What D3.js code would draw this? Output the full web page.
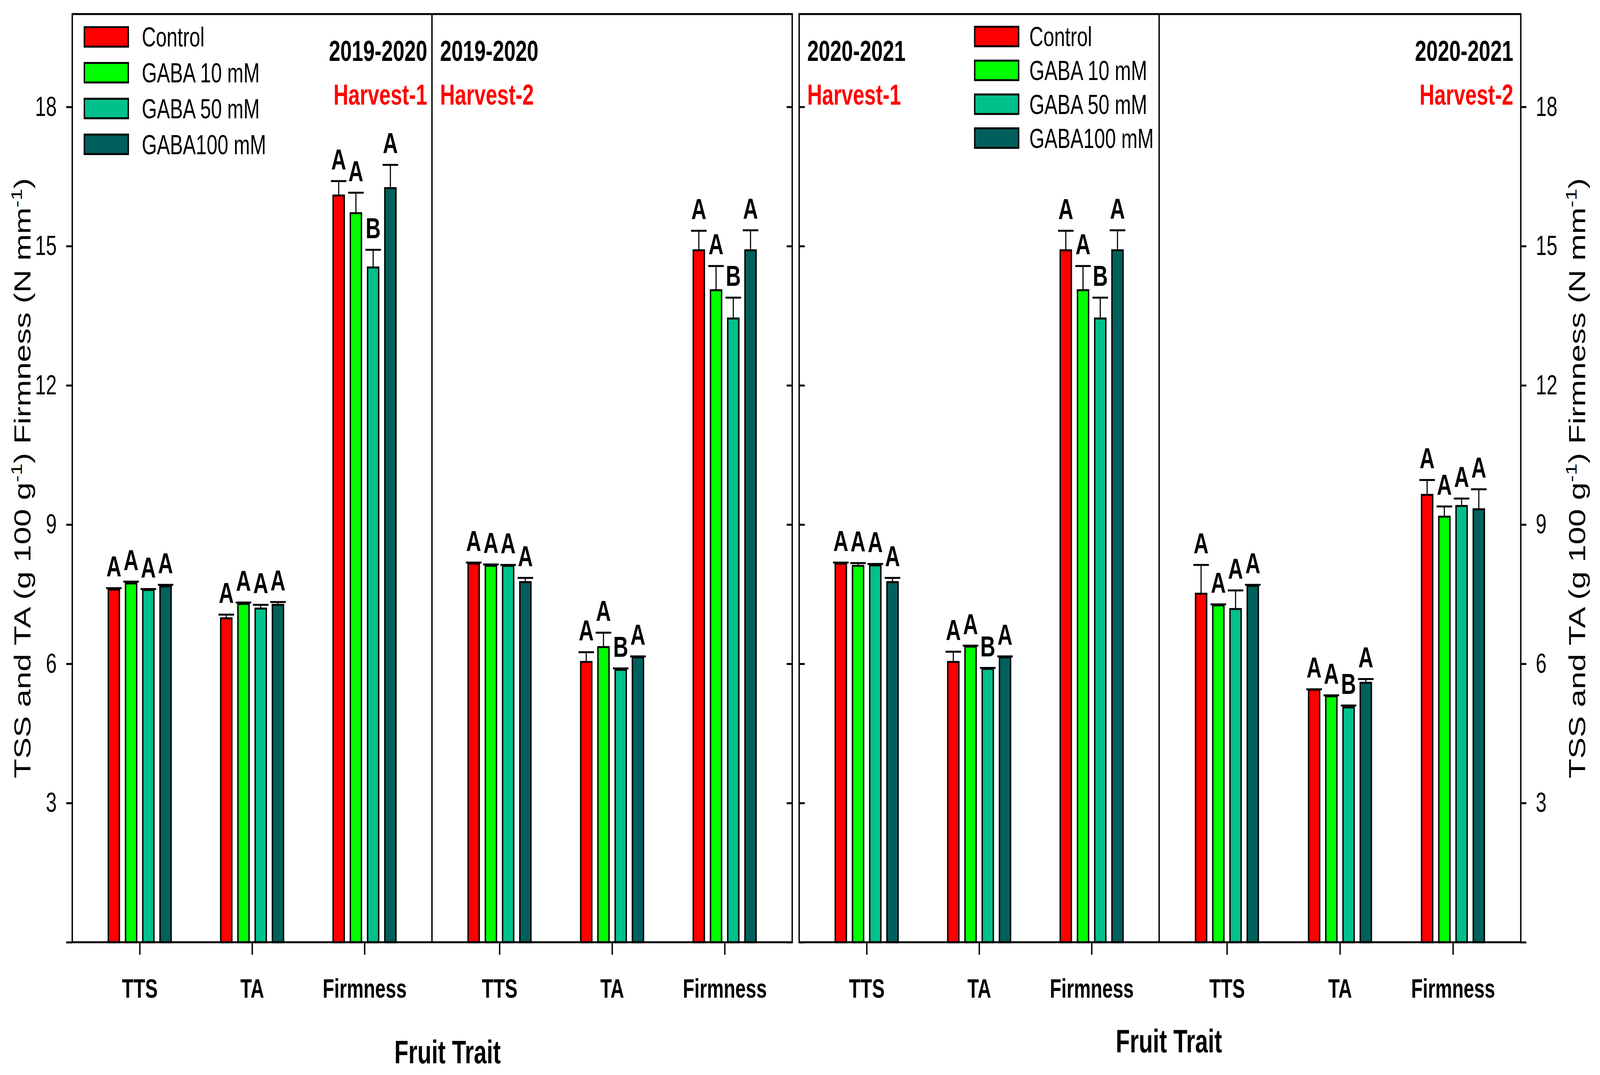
<!DOCTYPE html>
<html>
<head>
<meta charset="utf-8">
<script src="https://cdnjs.cloudflare.com/ajax/libs/d3/7.8.5/d3.min.js"></script>
<style>
html, body { margin: 0; padding: 0; background: #fff; overflow: hidden; }
svg { display: block; }
text { font-family: "Liberation Sans", Arial, sans-serif; }
</style>
</head>
<body>
<script>
// GABA treatments - fruit traits, two seasons, two harvests each
var categories = ["TTS", "TA", "Firmness"];
var treatments = ["Control", "GABA 10 mM", "GABA 50 mM", "GABA100 mM"];
var colors = ["#ff0000", "#00ff00", "#00c08c", "#00605c"];
var yTicks = [0, 3, 6, 9, 12, 15, 18];

var seasons = ["2019-2020", "2019-2020", "2020-2021", "2020-2021"];
var harvests = ["Harvest-1", "Harvest-2", "Harvest-1", "Harvest-2"];

// rows = TTS, TA, Firmness ; cols = treatments
var s1920_h1 = [[7.60, 7.73, 7.59, 7.67], [6.98, 7.29, 7.19, 7.27], [16.09, 15.71, 14.54, 16.25]];
var s1920_h1_se = [[0.03, 0.04, 0.02, 0.03], [0.08, 0.03, 0.08, 0.06], [0.31, 0.44, 0.38, 0.50]];
var s1920_h1_sig = [["A", "A", "A", "A"], ["A", "A", "A", "A"], ["A", "A", "B", "A"]];

var s1920_h2 = [[8.16, 8.11, 8.11, 7.76], [6.04, 6.36, 5.87, 6.14], [14.91, 14.05, 13.44, 14.91]];
var s1920_h2_se = [[0.02, 0.03, 0.02, 0.09], [0.21, 0.31, 0.03, 0.02], [0.42, 0.52, 0.45, 0.43]];
var s1920_h2_sig = [["A", "A", "A", "A"], ["A", "A", "B", "A"], ["A", "A", "B", "A"]];

var s2021_h1 = [[8.16, 8.11, 8.12, 7.76], [6.04, 6.37, 5.89, 6.14], [14.91, 14.05, 13.44, 14.91]];
var s2021_h1_se = [[0.02, 0.06, 0.03, 0.09], [0.22, 0.02, 0.02, 0.02], [0.42, 0.52, 0.45, 0.43]];
var s2021_h1_sig = [["A", "A", "A", "A"], ["A", "A", "B", "A"], ["A", "A", "B", "A"]];

var s2021_h2 = [[7.51, 7.26, 7.18, 7.68], [5.44, 5.30, 5.06, 5.59], [9.64, 9.17, 9.40, 9.33]];
var s2021_h2_se = [[0.62, 0.02, 0.40, 0.02], [0.01, 0.02, 0.04, 0.08], [0.32, 0.22, 0.16, 0.43]];
var s2021_h2_sig = [["A", "A", "A", "A"], ["A", "A", "B", "A"], ["A", "A", "A", "A"]];

var means = [s1920_h1, s1920_h2, s2021_h1, s2021_h2];
var errs = [s1920_h1_se, s1920_h2_se, s2021_h1_se, s2021_h2_se];
var sigs = [s1920_h1_sig, s1920_h2_sig, s2021_h1_sig, s2021_h2_sig];

// layout (drawn in reference pixel space, scaled to the window by viewBox)
var W = 5756, H = 2753;
var yTop = 36, yBase = 2413;
var panelX = [[260, 1554], [1554, 2850], [2875, 4170], [4170, 5471]];
var titleAnchor = ["end", "start", "start", "end"];
var titleX = [1537, 1583, 2904, 5444];
var barStep = 62, barW = 40, capW = 56, lw = 5;

var svg = d3.select("body").append("svg")
  .attr("viewBox", "0 0 " + W + " " + H)
  .attr("preserveAspectRatio", "none")
  .style("width", "100vw")
  .style("height", "100vh");

svg.append("rect").attr("width", W).attr("height", H).attr("fill", "#fff");

var y = d3.scaleLinear().domain([0, 20]).range([yBase, yTop]);

means.forEach(function (m, p) {
  var x = d3.scalePoint().domain(categories).range(panelX[p]).padding(0.6);
  var g = svg.append("g");

  var rows = [];
  categories.forEach(function (c, i) {
    treatments.forEach(function (t, j) {
      rows.push({ cat: c, j: j, v: m[i][j], e: errs[p][i][j], s: sigs[p][i][j] });
    });
  });
  function cx(d) { return x(d.cat) + (d.j - 1.5) * barStep; }

  g.selectAll(".err").data(rows).enter().append("line")
    .attr("x1", cx).attr("x2", cx)
    .attr("y1", function (d) { return y(d.v); })
    .attr("y2", function (d) { return y(d.v + d.e); })
    .attr("stroke", "#000").attr("stroke-width", 4);
  g.selectAll(".cap").data(rows).enter().append("line")
    .attr("x1", function (d) { return cx(d) - capW / 2; })
    .attr("x2", function (d) { return cx(d) + capW / 2; })
    .attr("y1", function (d) { return y(d.v + d.e); })
    .attr("y2", function (d) { return y(d.v + d.e); })
    .attr("stroke", "#000").attr("stroke-width", lw);

  g.selectAll(".bar").data(rows).enter().append("rect")
    .attr("x", function (d) { return cx(d) - barW / 2; })
    .attr("y", function (d) { return y(d.v); })
    .attr("width", barW)
    .attr("height", function (d) { return yBase - y(d.v); })
    .attr("fill", function (d) { return colors[d.j]; })
    .attr("stroke", "#000").attr("stroke-width", lw);

  g.selectAll(".sig").data(rows).enter().append("text")
    .attr("x", cx)
    .attr("y", function (d) { return y(d.v + d.e) - 30; })
    .attr("text-anchor", "middle")
    .attr("font-size", 75).attr("font-weight", "bold")
    .text(function (d) { return d.s; });

  // category axis
  var ax = svg.append("g")
    .attr("transform", "translate(0," + yBase + ")")
    .call(d3.axisBottom(x).tickSize(32).tickSizeOuter(0).tickPadding(62));
  ax.select(".domain").remove();
  ax.selectAll("line").attr("stroke-width", lw);
  ax.selectAll("text").attr("font-size", 68).attr("font-weight", "bold")
    .attr("font-family", "Liberation Sans, Arial, sans-serif");

  // panel labels
  svg.append("text").attr("x", titleX[p]).attr("y", 156)
    .attr("text-anchor", titleAnchor[p])
    .attr("font-size", 74).attr("font-weight", "bold")
    .text(seasons[p]);
  svg.append("text").attr("x", titleX[p]).attr("y", 268)
    .attr("text-anchor", titleAnchor[p])
    .attr("font-size", 74).attr("font-weight", "bold").attr("fill", "#ff0000")
    .text(harvests[p]);
});

// frames
[[260, 2850], [2875, 5471]].forEach(function (f) {
  svg.append("rect").attr("x", f[0]).attr("y", yTop)
    .attr("width", f[1] - f[0]).attr("height", yBase - yTop)
    .attr("fill", "none").attr("stroke", "#000").attr("stroke-width", lw);
});
[1554, 4170].forEach(function (xx) {
  svg.append("line").attr("x1", xx).attr("x2", xx).attr("y1", yTop).attr("y2", yBase)
    .attr("stroke", "#000").attr("stroke-width", lw);
});

// y axes
function styleY(a) {
  a.select(".domain").remove();
  a.selectAll("line").attr("stroke-width", lw);
  a.selectAll("text").attr("font-size", 70)
    .attr("font-family", "Liberation Sans, Arial, sans-serif");
}
function fmt(d) { return d === 0 ? "" : d; }
svg.append("g").attr("transform", "translate(260,0)")
  .call(d3.axisLeft(y).tickValues(yTicks).tickSize(22).tickPadding(34).tickFormat(fmt)).call(styleY);
svg.append("g").attr("transform", "translate(5471,0)")
  .call(d3.axisRight(y).tickValues(yTicks).tickSize(20).tickPadding(34).tickFormat(fmt)).call(styleY);
svg.append("g").attr("transform", "translate(2850,0)")
  .call(d3.axisLeft(y).tickValues(yTicks).tickSize(20).tickFormat("")).call(styleY);
svg.append("g").attr("transform", "translate(2875,0)")
  .call(d3.axisRight(y).tickValues(yTicks).tickSize(20).tickFormat("")).call(styleY);

// y titles
[110, 5703].forEach(function (tx) {
  var t = svg.append("text")
    .attr("transform", "translate(" + tx + "," + ((yTop + yBase) / 2) + ") rotate(-90)")
    .attr("text-anchor", "middle").attr("font-size", 82);
  t.append("tspan").text("TSS and TA (g 100 g");
  t.append("tspan").attr("font-size", 54).attr("dy", -32).text("-1");
  t.append("tspan").attr("dy", 32).text(") Firmness (N mm");
  t.append("tspan").attr("font-size", 54).attr("dy", -32).text("-1");
  t.append("tspan").attr("dy", 32).text(")");
});

// x titles
svg.append("text").attr("x", 1610).attr("y", 2723).attr("text-anchor", "middle")
  .attr("font-size", 83).attr("font-weight", "bold").text("Fruit Trait");
svg.append("text").attr("x", 4205).attr("y", 2695).attr("text-anchor", "middle")
  .attr("font-size", 83).attr("font-weight", "bold").text("Fruit Trait");

// legends
var legendPos = [{ x: 301, y: 67, dy: 91.7, tx: 510 }, { x: 3504, y: 66, dy: 86.7, tx: 3703 }];
legendPos.forEach(function (L) {
  var lg = svg.append("g");
  lg.selectAll("rect").data(treatments).enter().append("rect")
    .attr("x", L.x + 2.5)
    .attr("y", function (d, i) { return L.y + i * L.dy + 2.5; })
    .attr("width", 158).attr("height", 50)
    .attr("fill", function (d, i) { return colors[i]; })
    .attr("stroke", "#000").attr("stroke-width", lw);
  lg.selectAll("text").data(treatments).enter().append("text")
    .attr("x", L.tx)
    .attr("y", function (d, i) { return L.y + i * L.dy + 27.5 + 25; })
    .attr("font-size", 70)
    .text(function (d) { return d; });
});
</script>
</body>
</html>
